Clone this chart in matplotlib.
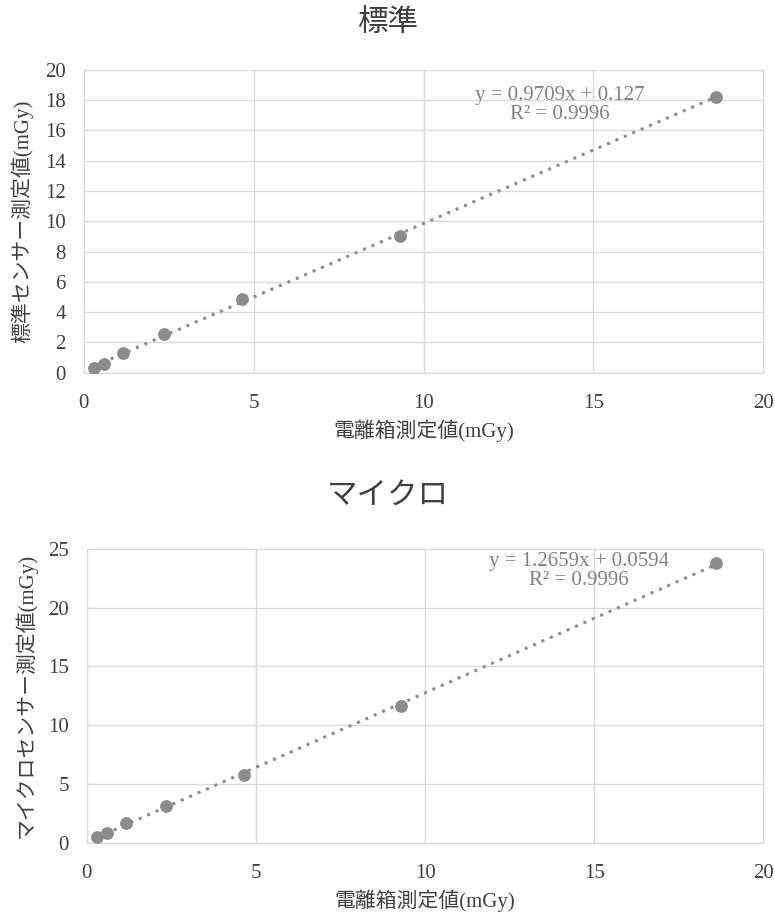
import numpy as np
import matplotlib.pyplot as plt

# ion chamber readings (x) and sensor readings (y)
ion_x = [0.3, 0.6, 1.15, 2.35, 4.65, 9.3, 18.6]
std_y = [0.3, 0.6, 1.3, 2.55, 4.85, 9.05, 18.2]
micro_y = [0.45, 0.85, 1.65, 3.15, 5.8, 11.65, 23.8]

titles = ["標準", "マイクロ"]
ylabels = ["標準センサー測定値(mGy)", "マイクロセンサー測定値(mGy)"]
xlabel = "電離箱測定値(mGy)"
eq_texts = ["y = 0.9709x + 0.127\nR² = 0.9996", "y = 1.2659x + 0.0594\nR² = 0.9996"]
yticks = [np.arange(0, 21, 2), np.arange(0, 26, 5)]
xticks = [0, 5, 10, 15, 20]

fam = ["Liberation Serif", "Noto Sans CJK JP", "DejaVu Sans"]
plt.rcParams["font.family"] = fam

fig = plt.figure(figsize=(7.75, 9.18), dpi=100)
axes = [fig.add_axes([0.108, 0.594, 0.877, 0.330]),
        fig.add_axes([0.112, 0.082, 0.873, 0.320])]
title_y = [0.974, 0.459]
eq_pos = [(0.70, 0.945), (0.727, 0.99)]

grey = "#8c8c8c"
grid_c = "#d9d9d9"
text_c = "#404040"

for i, (ax, ys) in enumerate(zip(axes, [std_y, micro_y])):
    ax.scatter(ion_x, ys, s=85, color=grey, zorder=3, linewidths=0)
    # linear trend line over data range
    k, b = np.polyfit(ion_x, ys, 1)
    xx = np.array([min(ion_x), max(ion_x)])
    ax.plot(xx, k * xx + b, linestyle=(0, (1, 2)), color=grey, lw=2.2, zorder=2)

    ax.set_xlim(0, 20)
    ax.set_ylim(yticks[i][0], yticks[i][-1])
    ax.set_xticks(xticks)
    ax.set_yticks(yticks[i])
    ax.grid(True, color=grid_c, lw=1)
    ax.set_axisbelow(True)
    for s in ax.spines.values():
        s.set_color(grid_c)
    ax.tick_params(length=0, labelsize=15, labelcolor=text_c)
    ax.tick_params(axis="y", pad=13)
    ax.tick_params(axis="x", pad=15)

    fig.text(0.5, title_y[i], titles[i], fontsize=22, color=text_c, ha="center", va="center")
    ax.set_xlabel(xlabel, fontsize=15, color=text_c, labelpad=5)
    ax.set_ylabel(ylabels[i], fontsize=15, color=text_c, labelpad=8)

    ax.text(eq_pos[i][0], eq_pos[i][1], eq_texts[i], transform=ax.transAxes,
            ha="center", va="top", fontsize=15, color="#808080", linespacing=1.0)

plt.savefig("out.png", dpi=100)
